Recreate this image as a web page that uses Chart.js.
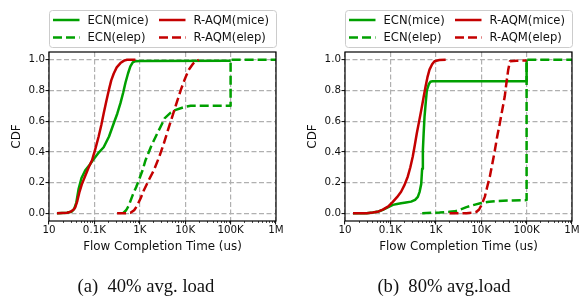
<!DOCTYPE html>
<html>
<head>
<meta charset="utf-8">
<script src="https://cdn.jsdelivr.net/npm/chart.js@4.4.1/dist/chart.umd.min.js"></script>
<style>
  body { margin: 0; background: #fff; }
  #wrap { position: relative; width: 579px; height: 297px; overflow: hidden; }
  canvas { position: absolute; top: 0; }
  .cap { position: absolute; width: 200px; text-align: center; white-space: pre;
         font-family: "Liberation Serif", "Times New Roman", serif; font-size: 18.6px; line-height: 20px; color: #111; }
</style>
</head>
<body>
<div id="wrap">
  <canvas id="chartA" width="290" height="297" style="left:0"></canvas>
  <canvas id="chartB" width="289" height="297" style="left:290px"></canvas>
  <div class="cap" style="left:46px; top:276px">(a)  40% avg. load</div>
  <div class="cap" style="left:344px; top:276px">(b)  80% avg.load</div>
</div>
<script>
// axis ticks
var xTickValues = [10, 100, 1000, 10000, 100000, 1000000]
var xTickLabels = ['10', '0.1K', '1K', '10K', '100K', '1M']
var yTickValues = [0, 0.2, 0.4, 0.6, 0.8, 1.0]
var seriesNames = ['ECN(mice)', 'ECN(elep)', 'R-AQM(mice)', 'R-AQM(elep)']

// (a) 40% load : flow completion time (us) / CDF
var ecnMiceA_fct = [15, 25, 32, 36, 40, 45, 52, 63, 78, 95, 120, 160, 210, 267, 320, 375, 430, 483, 550, 620, 700, 800, 1000, 100000]
var ecnMiceA_cdf = [0, 0.004, 0.012, 0.03, 0.07, 0.16, 0.23, 0.28, 0.315, 0.35, 0.39, 0.43, 0.5, 0.586, 0.65, 0.717, 0.785, 0.85, 0.91, 0.956, 0.982, 0.99, 0.992, 0.993]
var ecnElepA_fct = [422, 500, 571, 700, 830, 955, 1150, 1337, 1800, 2420, 3000, 3550, 4790, 6000, 7940, 10000, 13200, 20000, 100000, 100000, 1000000]
var ecnElepA_cdf = [0, 0.02, 0.05, 0.12, 0.17, 0.216, 0.28, 0.346, 0.44, 0.52, 0.575, 0.62, 0.655, 0.672, 0.684, 0.693, 0.7, 0.7, 0.7, 1.0, 1.0]
var aqmMiceA_fct = [15, 25, 30, 35, 38, 42, 47, 53, 62, 75, 89, 105, 124, 142, 160, 183, 207, 235, 267, 310, 375, 450, 525, 800]
var aqmMiceA_cdf = [0, 0.004, 0.01, 0.025, 0.04, 0.08, 0.14, 0.19, 0.24, 0.3, 0.346, 0.42, 0.5, 0.575, 0.65, 0.73, 0.8, 0.865, 0.91, 0.95, 0.978, 0.994, 1.0, 1.0]
var aqmElepA_fct = [316, 450, 624, 750, 875, 1050, 1230, 1600, 2040, 2700, 3390, 4200, 5190, 6500, 7940, 10000, 12000, 15000, 20000]
var aqmElepA_cdf = [0, 0, 0.003, 0.02, 0.05, 0.1, 0.15, 0.22, 0.28, 0.37, 0.455, 0.545, 0.63, 0.72, 0.8, 0.88, 0.935, 0.975, 1.0]

// (b) 80% load
var ecnMiceB_fct = [15, 30, 41, 55, 68, 90, 113, 140, 172, 220, 286, 350, 402, 440, 477, 500, 519, 540, 565, 600, 635, 700, 757, 850, 100000, 100000]
var ecnMiceB_cdf = [0, 0.001, 0.005, 0.012, 0.022, 0.04, 0.055, 0.06, 0.065, 0.07, 0.076, 0.088, 0.107, 0.14, 0.19, 0.29, 0.41, 0.52, 0.63, 0.72, 0.8, 0.84, 0.856, 0.86, 0.86, 1.0]
var ecnElepB_fct = [502, 800, 1210, 2000, 2600, 3500, 4730, 7000, 10000, 15000, 21700, 50000, 100000, 100000, 1000000]
var ecnElepB_cdf = [0, 0.003, 0.005, 0.01, 0.013, 0.025, 0.04, 0.055, 0.067, 0.075, 0.08, 0.084, 0.086, 1.0, 1.0]
var aqmMiceB_fct = [15, 30, 41, 55, 68, 90, 113, 140, 172, 205, 242, 275, 311, 345, 381, 430, 477, 535, 595, 660, 727, 830, 937, 1200, 1650]
var aqmMiceB_cdf = [0, 0.001, 0.005, 0.012, 0.024, 0.045, 0.074, 0.105, 0.14, 0.185, 0.24, 0.3, 0.37, 0.445, 0.52, 0.6, 0.67, 0.75, 0.826, 0.89, 0.935, 0.97, 0.99, 0.998, 1.0]
var aqmElepB_fct = [2000, 3000, 4730, 6500, 7900, 9000, 10000, 11000, 12000, 13500, 15500, 17500, 20000, 22500, 25700, 29000, 33000, 36000, 39400, 43000, 60000, 100000]
var aqmElepB_cdf = [0, 0, 0, 0.004, 0.01, 0.025, 0.05, 0.08, 0.107, 0.17, 0.24, 0.32, 0.41, 0.5, 0.586, 0.67, 0.76, 0.85, 0.935, 0.99, 0.993, 0.995]

var GREEN = '#00a000'
var RED = '#c40000'
var DASH = [9, 4]
var FONT = "'DejaVu Sans', sans-serif"

function pts(xs, ys) {
    return xs.map(function(x, i) { return {x: x, y: ys[i]} })
}

function series(xs, ys, color, dashed, order) {
    return {
        data: pts(xs, ys),
        borderColor: color,
        borderWidth: 2.5,
        borderDash: dashed ? DASH : [],
        borderCapStyle: 'butt',
        borderJoinStyle: 'round',
        pointRadius: 0,
        fill: false,
        order: order
    }
}

// frame, minor ticks and the boxed 2-column legend
var decorPlugin = {
    id: 'decor',
    afterDraw: function(chart) {
        var ctx = chart.ctx, a = chart.chartArea, xs = chart.scales.x
        ctx.save()
        // minor ticks on log axis
        ctx.strokeStyle = '#000'
        ctx.lineWidth = 0.7
        for (var d = 10; d < 1000000; d *= 10) {
            for (var k = 2; k < 10; k++) {
                var px = Math.round(xs.getPixelForValue(k * d)) + 0.5
                ctx.beginPath()
                ctx.moveTo(px, a.bottom)
                ctx.lineTo(px, a.bottom + 2)
                ctx.stroke()
            }
        }
        // frame
        ctx.lineWidth = 1.2
        ctx.strokeRect(a.left, a.top, a.right - a.left, a.bottom - a.top)

        // legend box
        var L = a.left
        ctx.fillStyle = 'rgba(255,255,255,0.8)'
        ctx.strokeStyle = '#cccccc'
        ctx.lineWidth = 1
        ctx.beginPath()
        ctx.roundRect(L + 0.5, 10.5, a.right - L, 37, 3)
        ctx.fill()
        ctx.stroke()

        var rows = [20, 37.5]
        var cols = [L + 4, L + 110]
        var items = chart.data.datasets
        ctx.font = '11.6px ' + FONT
        ctx.textBaseline = 'middle'
        ctx.textAlign = 'left'
        for (var i = 0; i < items.length; i++) {
            var ds = items[i]
            var cx = cols[Math.floor(i / 2)], cy = rows[i % 2]
            ctx.strokeStyle = ds.borderColor
            ctx.lineWidth = 2.5
            ctx.setLineDash(ds.borderDash)
            ctx.beginPath()
            ctx.moveTo(cx, cy)
            ctx.lineTo(cx + 26.5, cy)
            ctx.stroke()
            ctx.setLineDash([])
            ctx.fillStyle = '#111'
            ctx.fillText(seriesNames[i], cx + 34.5, cy + 0.5)
        }
        ctx.restore()
    }
}

function makeChart(id, sets, yAxisWidth, yTitlePad, rightPad) {
    var ctx = document.getElementById(id).getContext('2d')
    return new Chart(ctx, {
        type: 'line',
        data: {datasets: sets},
        plugins: [decorPlugin],
        options: {
            responsive: false,
            animation: false,
            devicePixelRatio: 1,
            layout: {padding: {top: 52, right: rightPad, bottom: 43, left: 0}},
            plugins: {legend: {display: false}, tooltip: {enabled: false}},
            scales: {
                x: {
                    type: 'logarithmic',
                    min: 10, max: 1000000,
                    afterBuildTicks: function(s) { s.ticks = xTickValues.map(function(v) { return {value: v, major: true} }) },
                    afterFit: function(s) { s.height = 33; s.paddingLeft = 0; s.paddingRight = 0 },
                    ticks: {
                        autoSkip: false, maxRotation: 0, padding: 0, color: '#111',
                        font: {family: FONT, size: 10.3},
                        callback: function(v, i) { return xTickLabels[i] }
                    },
                    grid: {color: '#b0b0b0', lineWidth: 1.2, tickColor: '#000', tickLength: 3.5, tickWidth: 1},
                    border: {display: false, dash: [5, 2.5]},
                    title: {display: true, text: 'Flow Completion Time (us)', color: '#111',
                            font: {family: FONT, size: 11.9}, padding: 0}
                },
                y: {
                    min: -0.05, max: 1.05,
                    afterBuildTicks: function(s) { s.ticks = yTickValues.map(function(v) { return {value: v} }) },
                    afterFit: function(s) { s.width = yAxisWidth; s.paddingTop = 0; s.paddingBottom = 0 },
                    ticks: {
                        padding: 0.5, color: '#111',
                        font: {family: FONT, size: 10.3},
                        callback: function(v) { return v.toFixed(1) }
                    },
                    grid: {color: '#b0b0b0', lineWidth: 1.2, tickColor: '#000', tickLength: 3.5, tickWidth: 1},
                    border: {display: false, dash: [5, 2.5]},
                    title: {display: true, text: 'CDF', color: '#111',
                            font: {family: FONT, size: 11.9}, padding: {top: yTitlePad, bottom: 0}}
                }
            }
        }
    })
}

// Left chart section
makeChart('chartA', [
    series(ecnMiceA_fct, ecnMiceA_cdf, GREEN, false, 4),
    series(ecnElepA_fct, ecnElepA_cdf, GREEN, true, 3),
    series(aqmMiceA_fct, aqmMiceA_cdf, RED, false, 2),
    series(aqmElepA_fct, aqmElepA_cdf, RED, true, 1)
], 49, 10, 14)

// Right chart section
makeChart('chartB', [
    series(ecnMiceB_fct, ecnMiceB_cdf, GREEN, false, 4),
    series(ecnElepB_fct, ecnElepB_cdf, GREEN, true, 3),
    series(aqmMiceB_fct, aqmMiceB_cdf, RED, false, 2),
    series(aqmElepB_fct, aqmElepB_cdf, RED, true, 1)
], 55, 16, 7)
</script>
</body>
</html>
